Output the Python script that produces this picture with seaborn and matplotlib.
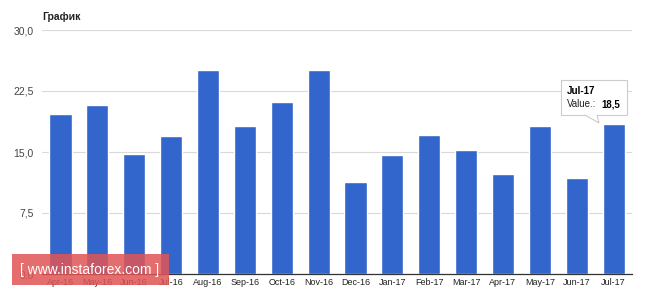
import matplotlib
matplotlib.use("Agg")
import matplotlib.pyplot as plt
import seaborn as sns
import pandas as pd
from matplotlib.patches import FancyBboxPatch, Polygon

months = ["Apr-16", "May-16", "Jun-16", "Jul-16", "Aug-16", "Sep-16", "Oct-16", "Nov-16",
          "Dec-16", "Jan-17", "Feb-17", "Mar-17", "Apr-17", "May-17", "Jun-17", "Jul-17"]
values = [19.7, 20.8, 14.7, 17.0, 25.1, 18.2, 21.2, 25.1,
          11.3, 14.6, 17.1, 15.2, 12.3, 18.2, 11.8, 18.5]
yticks = [0, 7.5, 15, 22.5, 30]
ytick_labels = ["0,0", "7,5", "15,0", "22,5", "30,0"]

sns.set_theme(style="white")
plt.rcParams['font.family'] = ['Liberation Sans', 'DejaVu Sans']

df = pd.DataFrame({"month": months, "value": values})

fig = plt.figure(figsize=(6.65, 2.9), dpi=100)
ax = fig.add_axes([42/665, 1-274/290, (632-42)/665, (274-30)/290])

sns.barplot(data=df, x="month", y="value", color="#3366cc", saturation=1,
            width=0.6, ax=ax, zorder=3)

ax.set_ylim(0, 30)
ax.set_xlim(-0.5, len(months)-0.5)
ax.set_yticks(yticks)
ax.set_yticklabels(ytick_labels)
ax.set_xlabel("")
ax.set_ylabel("")
ax.grid(axis="y", color="#d9d9d9", linewidth=0.8, zorder=0)
for s in ["top", "right", "left"]:
    ax.spines[s].set_visible(False)
ax.spines["bottom"].set_color("#333333")
ax.spines["bottom"].set_linewidth(0.9)
ax.spines["bottom"].set_zorder(4)
ax.tick_params(axis="y", length=0, pad=6, labelsize=7.5, labelcolor="#444444")
ax.tick_params(axis="x", length=0, pad=3, labelsize=6.5, labelcolor="#222222")

fig.text(42/665, 1-17/290, "График", fontsize=7.5, fontweight="bold", color="#222222",
         va="center", ha="left")

# tooltip
tx0, ty0, tx1, ty1 = 561/665, 1-115/290, 627/665, 1-80/290
box = FancyBboxPatch((tx0, ty0), tx1-tx0, ty1-ty0, boxstyle="square,pad=0",
                     transform=fig.transFigure, facecolor="white", edgecolor="#cccccc",
                     linewidth=0.8, zorder=10)
fig.patches.append(box)
# callout pointer
ptr = Polygon([(585/665, 1-115/290), (599/665, 1-123/290), (597/665, 1-115/290)],
              closed=False, transform=fig.transFigure, facecolor="white",
              edgecolor="#cccccc", linewidth=0.8, zorder=10)
fig.patches.append(ptr)
fig.text(567/665, 1-91/290, "Jul-17", fontsize=7, fontweight="bold", color="#000000",
         va="center", ha="left", zorder=11)
fig.text(567/665, 1-104/290, "Value.:", fontsize=7, color="#222222",
         va="center", ha="left", zorder=11)
fig.text(601/665, 1-104/290, "18,5", fontsize=7, fontweight="bold", color="#000000",
         va="center", ha="left", zorder=11)

# watermark
wm = FancyBboxPatch((12/665, 1-285/290), (169-12)/665, (285-254)/290, boxstyle="square,pad=0",
                    transform=fig.transFigure, facecolor="#e05555", edgecolor="none",
                    alpha=0.85, zorder=12)
fig.patches.append(wm)
fig.text(90/665, 1-270/290, "[ www.instaforex.com ]", fontsize=10, color="white",
         va="center", ha="center", zorder=13)

fig.savefig("out.png", dpi=100)
